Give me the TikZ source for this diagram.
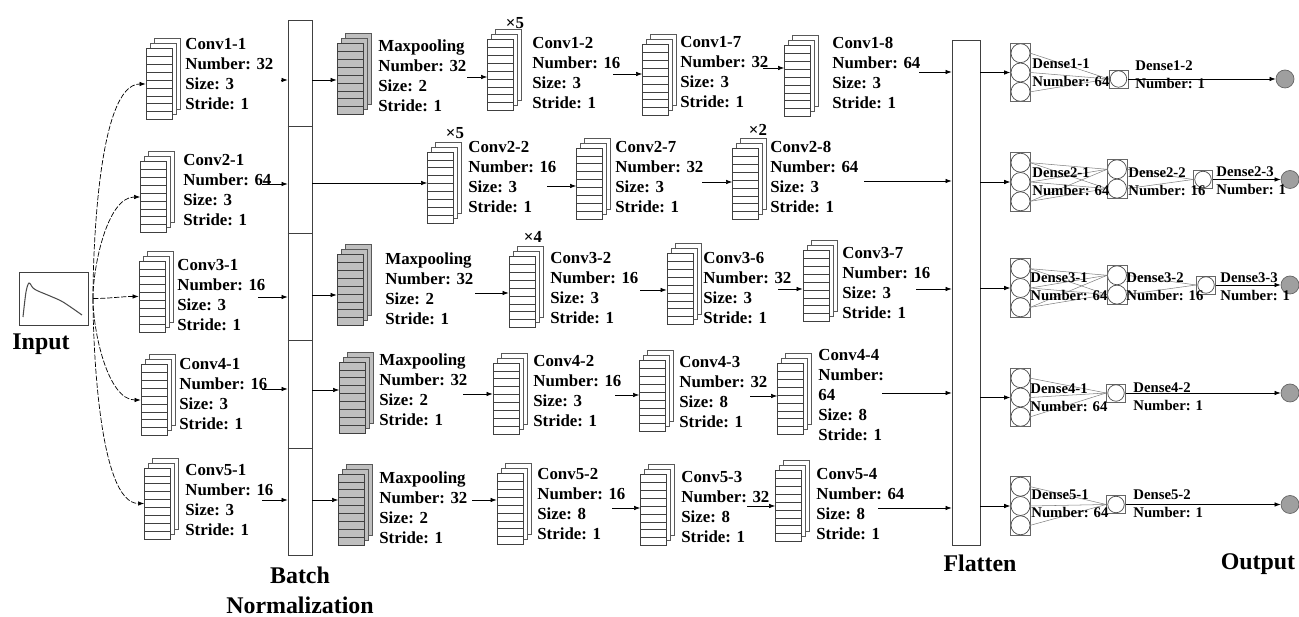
\documentclass[tikz,border=0pt]{standalone}
\usepackage{fontspec}
\setmainfont{Liberation Serif}
\usetikzlibrary{arrows.meta,shadows,fit}

\begin{document}
\begin{tikzpicture}[x=0.02cm, y=-0.02cm, line width=0.4pt,
    fmap/.style={draw=black!75, fill=#1, inner sep=0pt, minimum width=0.52cm, minimum height=1.42cm,
      copy shadow={shadow xshift=0.16cm, shadow yshift=0.2cm, draw=black!65, fill=#1},
      copy shadow={shadow xshift=0.08cm, shadow yshift=0.1cm, draw=black!65, fill=#1},
      path picture={\foreach \k in {1,...,8}
        \draw[black!75] ([yshift=-\k*0.158cm]path picture bounding box.north west)
          -- ([yshift=-\k*0.158cm]path picture bounding box.north east);}},
    fmap/.default=white,
    info/.style={anchor=north west, inner sep=0pt, align=left,
      font=\fontsize{9.6}{11.4}\selectfont\bfseries},
    dinfo/.style={anchor=north west, inner sep=0pt, align=left,
      font=\fontsize{8.4}{10.2}\selectfont\bfseries},
    rep/.style={inner sep=0pt, font=\fontsize{9.6}{11.4}\selectfont\bfseries},
    big/.style={anchor=base, inner sep=0pt, font=\fontsize{13.6}{16}\selectfont\bfseries},
    arr/.style={-{Latex[length=3.5pt,width=2.6pt]}},
    curve/.style={arr, dash pattern=on 3pt off 1pt},
    bar/.style={draw=black!75, inner sep=0pt},
    neuron/.style={circle, draw=black!70, inner sep=0pt, minimum size=0.38cm},
    unitbox/.style={draw=black!60, inner sep=0pt, minimum width=0.38cm, minimum height=0.36cm},
    outunit/.style={circle, draw=gray!80!black, fill=gray!75, inner sep=0pt, minimum size=0.36cm},
    wire/.style={gray, line width=0.3pt}]
  \useasboundingbox (0,0) rectangle (1299,617);

  % input
  \node[draw=black!75, minimum width=1.38cm, minimum height=1.06cm, inner sep=0pt] (in) at (53.5,298.5) {};
  \draw[gray!60!black, line width=0.6pt] plot[smooth] coordinates
    {(23,317) (26,292) (29,283) (33,288) (38,291) (50,296) (63,302) (82,315)};
  \node[big] (inlab) at (41,350) {Input};
  \coordinate (src) at (93,298.5);

  % batch normalization and flatten
  \node[bar, minimum width=0.48cm, minimum height=10.7cm] (bn) at (300,287.5) {};
  \foreach \y in {126,233,340,448}
    \draw[black!75] (bn.west |- 0,\y) -- (bn.east |- 0,\y);
  \node[big] (bnlab1) at (300,584) {Batch};
  \node[big] (bnlab2) at (300,614) {Normalization};
  \node[bar, minimum width=0.56cm, minimum height=10.1cm] (fl) at (966,292.5) {};
  \node[big] (fllab) at (980,572) {Flatten};
  \node[big] (outlab) at (1258,570) {Output};

  % feature maps
  \foreach \n/\x/\y in {c11/159/84, c12/500.5/75, c17/655.5/80, c18/797.5/81,
      c21/153.5/197, c22/440.5/187.5, c27/589.5/183.5, c28/745.5/184,
      c31/152/296.5, c32/522/292, c36/680/289, c37/816/286,
      c41/154/400, c42/506/398.5, c43/652.5/396, c44/790.5/399,
      c51/157.5/503.5, c52/510/509, c53/653.5/510, c54/788.5/506}
    \node[fmap] (\n) at (\x,\y) {};
  \foreach \n/\x/\y in {p1/350/79, p3/350/290, p4/352.5/397.5, p5/351.5/509.5}
    \node[fmap=gray!50] (\n) at (\x,\y) {};

  \foreach \n/\x/\y/\a/\b/\c in {c11/185/38/Conv1-1/32/3, p1/378/39/Maxpooling/32/2,
      c12/532/37/Conv1-2/16/3, c17/680/36/Conv1-7/32/3, c18/832/37/Conv1-8/64/3,
      c21/183/154/Conv2-1/64/3, c22/468/141/Conv2-2/16/3, c27/615/141/Conv2-7/32/3,
      c28/770/141/Conv2-8/64/3,
      c31/177/259/Conv3-1/16/3, p3/385/252/Maxpooling/32/2, c32/550/252/Conv3-2/16/3,
      c36/703/252/Conv3-6/32/3, c37/842/247/Conv3-7/16/3,
      c41/179/358/Conv4-1/16/3, p4/379/353/Maxpooling/32/2, c42/533/355/Conv4-2/16/3,
      c43/679/356/Conv4-3/32/8,
      c51/185/464/Conv5-1/16/3, p5/379/471/Maxpooling/32/2, c52/537/468/Conv5-2/16/8,
      c53/681/471/Conv5-3/32/8, c54/816/468/Conv5-4/64/8}
    \node[info] (t\n) at (\x,\y) {\a\\Number: \b\\Size: \c\\Stride: 1};
  \node[info] (tc44) at (818,349) {Conv4-4\\Number:\\64\\Size: 8\\Stride: 1};

  \node[rep] (x12) at (515,23) {×5};
  \node[rep] (x22) at (455,133) {×5};
  \node[rep] (x32) at (533,237) {×4};
  \node[rep] (x28) at (758,130) {×2};

  % input to first convolutions
  \foreach \t/\o/\l in {c11/90/0.55, c21/90/0.75, c31/0/1, c41/-90/0.75, c51/-90/0.55}
    \draw[curve] (src) to[out=\o, in=180, looseness=\l] (\t.west);

  % arrows along the rows
  \foreach \x/\y/\t in {281/80/bn, 262/184/bn, 258/297/bn, 262/389/bn, 262/500/bn,
      467/77/c12, 613/74/c17, 763/68/c18, 919/72/fl,
      547/186/c27, 702/182/c28, 864/181/fl,
      475/293/c32, 640/290/c36, 778/289/c37, 916/289/fl,
      463/394/c42, 615/395/c43, 750/396/c44, 882/393/fl,
      472/500/c52, 612/508/c53, 747/506/c54, 878/508/fl}{
    \coordinate (s) at (\x,\y);
    \draw[arr] (s) -- (s -| \t.west);
  }
  \foreach \y/\t in {80/p1, 183/c22, 295/p3, 390/p4, 500/p5}
    \draw[arr] (bn.east |- 0,\y) -- (\t.west |- 0,\y);

  % dense layers
  \foreach \r/\y in {1/72.5, 2/182, 3/288, 4/397.5, 5/506}{
    \foreach \k in {1,2,3}
      \node[neuron] (n\r\k) at (1020.5,\y+19.3*\k-38.6) {};
    \node[draw=black!60, inner sep=0pt, fit=(n\r1)(n\r3)] (h\r) {};
    \draw[arr] (fl.east |- h\r) -- (h\r);
  }
  \foreach \r/\y in {2/179, 3/285}{
    \foreach \k in {1,2}
      \node[neuron] (m\r\k) at (1117,\y+19.3*\k-29) {};
    \node[draw=black!60, inner sep=0pt, fit=(m\r1)(m\r2)] (g\r) {};
  }
  \foreach \r/\x/\y/\ox in {1/1118.5/79/1285, 2/1203/179.5/1290, 3/1206/285/1290,
      4/1116/393/1290, 5/1116/504.5/1290}{
    \node[unitbox] (b\r) at (\x,\y) {};
    \node[neuron, minimum size=0.33cm] (bc\r) at (b\r) {};
    \node[outunit] (o\r) at (\ox,\y) {};
    \draw[arr] (b\r) -- (o\r);
  }
  \foreach \r in {1,4,5}
    \foreach \k in {1,2,3}
      \draw[wire] (n\r\k.east) -- (b\r.west);
  \foreach \r in {2,3}{
    \foreach \k in {1,2,3}
      \foreach \j in {1,2}
        \draw[wire] (n\r\k.east) -- (m\r\j.west);
    \foreach \j in {1,2}
      \draw[wire] (m\r\j.east) -- (b\r.west);
  }

  \foreach \n/\x/\y/\a/\b in {d11/1032/58/Dense1-1/64, d12/1135/60/Dense1-2/1,
      d21/1032/167/Dense2-1/64, d22/1128/167/Dense2-2/16, d23/1216/166/Dense2-3/1,
      d31/1030/272/Dense3-1/64, d32/1126/272/Dense3-2/16, d33/1220/272/Dense3-3/1,
      d41/1030/383/Dense4-1/64, d42/1133/382/Dense4-2/1,
      d51/1031/489/Dense5-1/64, d52/1133/489/Dense5-2/1}
    \node[dinfo] (\n) at (\x,\y) {\a\\Number: \b};
\end{tikzpicture}
\end{document}
